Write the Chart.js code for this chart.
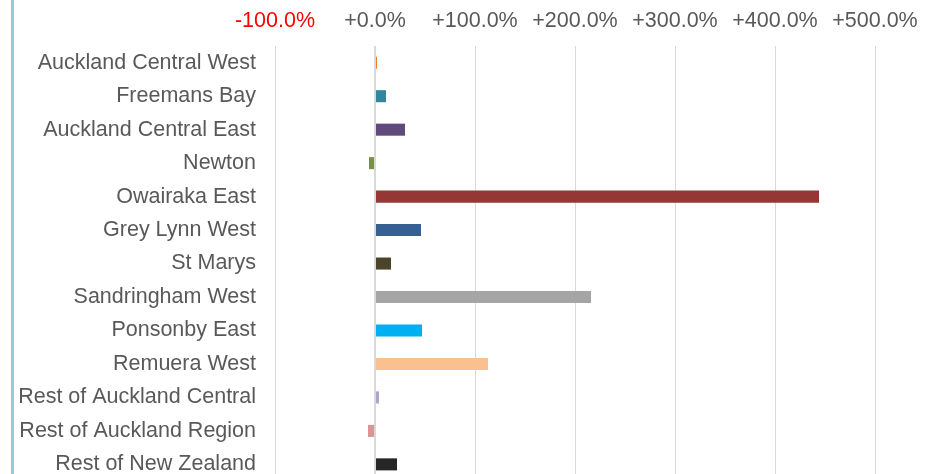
<!DOCTYPE html>
<html>
<head>
<meta charset="utf-8">
<script src="https://cdn.jsdelivr.net/npm/chart.js@4/dist/chart.umd.min.js"></script>
<style>
  html, body { margin: 0; padding: 0; background: #fff; overflow: hidden; }
  #wrap { position: relative; width: 939px; height: 474px; overflow: hidden; }
  #edge { position: absolute; left: 11px; top: 0; width: 3px; height: 474px; background: #92cddc; }
  #c { position: absolute; left: 0; top: 0; }
</style>
</head>
<body>
<div id="wrap">
  <div id="edge"></div>
  <canvas id="c" width="939" height="513"></canvas>
</div>
<script>
const categories = [
  "Auckland Central West", "Freemans Bay", "Auckland Central East", "Newton",
  "Owairaka East", "Grey Lynn West", "St Marys", "Sandringham West",
  "Ponsonby East", "Remuera West", "Rest of Auckland Central",
  "Rest of Auckland Region", "Rest of New Zealand"
];
const changePct = [2, 11, 30, -6, 444, 46, 16, 216, 47, 113, 4, -7, 22];
const barColors = [
  "#ed7d31", "#31859c", "#604a7b", "#77933c", "#953735", "#376092", "#4a452a",
  "#a5a5a5", "#00b0f0", "#fac090", "#b3a2c7", "#d99694", "#262626"
];
const tickValues = [-100, 0, 100, 200, 300, 400, 500];
const tickLabels = ["-100.0%", "+0.0%", "+100.0%", "+200.0%", "+300.0%", "+400.0%", "+500.0%"];

const FONT = "'Liberation Sans', Arial, Helvetica, sans-serif";

new Chart(document.getElementById('c'), {
  type: 'bar',
  data: {
    labels: categories,
    datasets: [{
      data: changePct,
      backgroundColor: barColors,
      borderWidth: 0,
      barPercentage: 0.36,
      categoryPercentage: 1.0
    }]
  },
  options: {
    indexAxis: 'y',
    responsive: false,
    animation: false,
    layout: { padding: { left: 0, right: 64, top: 0, bottom: 1 } },
    plugins: { legend: { display: false }, tooltip: { enabled: false } },
    scales: {
      x: {
        position: 'top',
        min: -100,
        max: 500,
        afterBuildTicks: (s) => { s.ticks = tickValues.map(v => ({ value: v })); },
        afterFit: (s) => { s.height = 46; },
        border: { display: false },
        grid: {
          color: '#d9d9d9',
          lineWidth: (ctx) => (ctx.tick && ctx.tick.value === 0 ? 2 : 1),
          drawTicks: false
        },
        ticks: {
          padding: 12,
          font: { family: FONT, size: 21.5 },
          color: (ctx) => (ctx.tick && ctx.tick.value < 0 ? '#ff0000' : '#595959'),
          callback: (v) => tickLabels[tickValues.indexOf(v)]
        }
      },
      y: {
        afterFit: (s) => { s.width = 275; },
        border: { display: false },
        grid: { display: false, drawTicks: false },
        ticks: {
          padding: 19,
          font: { family: FONT, size: 21.5 },
          color: '#595959'
        }
      }
    }
  }
});
</script>
</body>
</html>
